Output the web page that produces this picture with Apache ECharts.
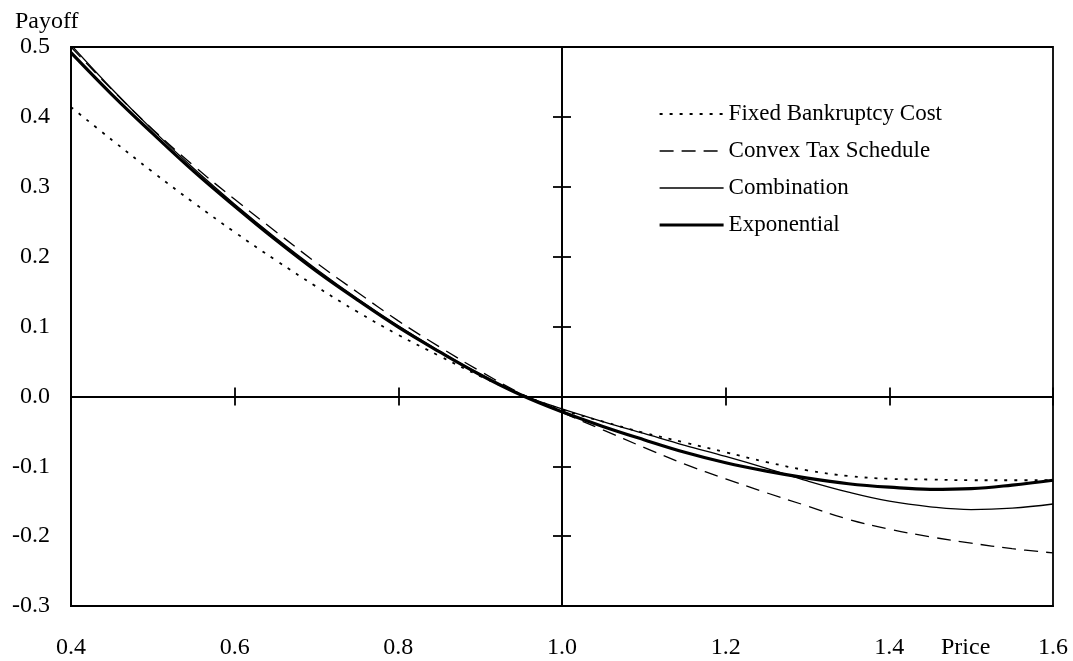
<!DOCTYPE html>
<html><head><meta charset="utf-8">
<script src="https://cdn.jsdelivr.net/npm/echarts@6/dist/echarts.min.js"></script>
<style>html,body{margin:0;padding:0;background:#fff}#c{width:1073px;height:661px}</style>
</head><body><div id="c"></div>
<script>
const prices = [0.40,0.45,0.50,0.55,0.60,0.65,0.70,0.75,0.80,0.85,0.90,0.95,1.00,1.05,1.10,1.15,1.20,1.25,1.30,1.35,1.40,1.45,1.50,1.55,1.60];
const fixedBankruptcy = [0.414,0.367,0.321,0.277,0.235,0.195,0.157,0.121,0.088,0.058,0.029,0.003,-0.019,-0.036,-0.052,-0.066,-0.080,-0.094,-0.106,-0.114,-0.118,-0.119,-0.120,-0.120,-0.120];
const convexTax = [0.500,0.439,0.382,0.330,0.282,0.236,0.191,0.149,0.108,0.071,0.036,0.004,-0.023,-0.048,-0.073,-0.097,-0.118,-0.138,-0.157,-0.176,-0.190,-0.201,-0.210,-0.218,-0.224];
const combination = [0.503,0.440,0.381,0.326,0.275,0.227,0.182,0.140,0.101,0.065,0.032,0.003,-0.018,-0.036,-0.053,-0.070,-0.086,-0.103,-0.121,-0.137,-0.150,-0.158,-0.162,-0.160,-0.154];
const exponential = [0.492,0.432,0.376,0.322,0.272,0.224,0.179,0.138,0.099,0.064,0.031,0.002,-0.022,-0.043,-0.062,-0.080,-0.095,-0.107,-0.117,-0.125,-0.130,-0.133,-0.132,-0.127,-0.120];
const seriesNames = ['Fixed Bankruptcy Cost','Convex Tax Schedule','Combination','Exponential'];
const xTitle = 'Price';
const yTitle = 'Payoff';

const FONT = 'Liberation Serif';
const FS = 24;
const txt = {fontFamily: FONT, fontSize: FS, color: '#000'};
const fmt = v => (Math.round(v * 10) / 10).toFixed(1);
const pts = arr => prices.map((p, i) => [p, arr[i]]);
const axLine = {color: '#000', width: 1.8};
const widths = [1.8, 1.3, 1.3, 3.2];
const dashes = [[3, 7], [14, 8], 'solid', 'solid'];
const valuesBySeries = [fixedBankruptcy, convexTax, combination, exponential];

const tickAxisX = inside => ({
  type: 'value', position: 'bottom', min: 0.4, max: 1.6, interval: 0.2,
  axisLine: {onZero: true, onZeroAxisIndex: 0, lineStyle: axLine},
  axisTick: {show: true, inside: inside, length: 9, lineStyle: {color: '#000', width: 1.8}},
  axisLabel: {show: false}, splitLine: {show: false}
});
const tickAxisY = inside => ({
  type: 'value', position: 'left', min: -0.3, max: 0.5, interval: 0.1,
  axisLine: {show: true, onZero: true, onZeroAxisIndex: 3, lineStyle: axLine},
  axisTick: {show: true, inside: inside, length: 9, lineStyle: {color: '#000', width: 1.8}},
  axisLabel: {show: false}, splitLine: {show: false}
});

const chart = echarts.init(document.getElementById('c'), null, {renderer: 'canvas'});
chart.setOption({
  backgroundColor: '#fff',
  animation: false,
  title: [
    {text: yTitle, left: 15, top: 10, padding: 0, textStyle: Object.assign({fontWeight: 'normal'}, txt)},
    {text: xTitle, left: 941, top: 636, padding: 0, textStyle: Object.assign({fontWeight: 'normal'}, txt)}
  ],
  grid: {left: 71, right: 20, top: 47, bottom: 55, show: true, borderColor: '#000', borderWidth: 1.8, backgroundColor: 'transparent'},
  legend: {
    orient: 'vertical', left: 658, top: 102, padding: 0, itemWidth: 64, itemHeight: 14, itemGap: 13,
    textStyle: Object.assign({lineHeight: 24}, txt, {fontSize: 23}),
    itemStyle: {opacity: 0, color: 'rgba(0,0,0,0)', borderWidth: 0},
    data: seriesNames.map((n, i) => ({name: n, lineStyle: {width: widths[i], type: dashes[i], color: '#000'}}))
  },
  xAxis: [
    {type: 'value', position: 'bottom', min: 0.4, max: 1.6, interval: 0.2,
     axisLine: {onZero: false, lineStyle: axLine}, axisTick: {show: false}, splitLine: {show: false},
     axisLabel: Object.assign({margin: 30, formatter: fmt, showMinLabel: true, showMaxLabel: true}, txt)},
    tickAxisX(true),
    tickAxisX(false),
    {type: 'value', position: 'top', min: -0.6, max: 0.6, show: false, splitLine: {show: false}}
  ],
  yAxis: [
    {type: 'value', position: 'left', min: -0.3, max: 0.5, interval: 0.1,
     axisLine: {show: true, onZero: false, lineStyle: axLine}, axisTick: {show: false}, splitLine: {show: false},
     axisLabel: Object.assign({margin: 21, formatter: fmt}, txt)},
    tickAxisY(true),
    tickAxisY(false)
  ],
  series: seriesNames.map((n, i) => ({
    name: n, type: 'line', data: pts(valuesBySeries[i]), smooth: 0.4, symbol: 'none',
    lineStyle: {color: '#000', width: widths[i], type: dashes[i]}, itemStyle: {color: '#000'}
  }))
});
</script></body></html>
